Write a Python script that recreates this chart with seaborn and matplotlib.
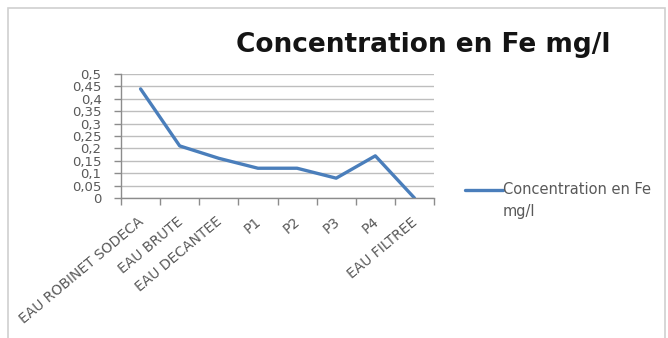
import matplotlib
matplotlib.use("Agg")
import matplotlib.pyplot as plt
import matplotlib.transforms as mtransforms
from matplotlib.patches import Rectangle
from matplotlib.lines import Line2D
from matplotlib.legend_handler import HandlerLine2D
from matplotlib.ticker import FixedLocator, FuncFormatter
import seaborn as sns
import pandas as pd

# Iron concentration along the treatment chain
categories = ["EAU ROBINET SODECA", "EAU BRUTE", "EAU DECANTEE",
              "P1", "P2", "P3", "P4", "EAU FILTREE"]
fe_mg_l = [0.44, 0.21, 0.16, 0.12, 0.12, 0.08, 0.17, 0.0]
y_ticks = [0, 0.05, 0.1, 0.15, 0.2, 0.25, 0.3, 0.35, 0.4, 0.45, 0.5]
series_name = "Concentration en Fe mg/l"

df = pd.DataFrame({"site": categories, "fe": fe_mg_l})

sns.set_theme(style="white")
plt.rcParams["font.family"] = ["DejaVu Sans"]

W, H = 668, 338
fig = plt.figure(figsize=(W / 100, H / 100), dpi=100)
fig.patch.set_facecolor("white")

# outer chart frame (bottom edge runs past the figure)
fig.patches.append(Rectangle((8 / W, -0.1), (665 - 8) / W, 1.1 - 8 / H,
                             transform=fig.transFigure, fill=False,
                             edgecolor="#D0D0D0", linewidth=1.2))

ax = fig.add_axes([121 / W, 1 - 198 / H, (434 - 121) / W, (198 - 74) / H])
x_pos = list(range(len(categories)))
line_color = "#4A7EBB"
sns.lineplot(x=x_pos, y=df["fe"], ax=ax, color=line_color, linewidth=2.4,
             sort=False, legend=False)

ax.set_xlim(-0.5, len(categories) - 0.5)
ax.set_ylim(0, 0.5)

grey = "#8C8C8C"
text_grey = "#595959"
ax.yaxis.set_major_locator(FixedLocator(y_ticks))
ax.yaxis.set_major_formatter(FuncFormatter(lambda v, p: f"{v:g}".replace(".", ",")))
ax.grid(axis="y", color="#BEBEBE", linewidth=1.0)
ax.set_axisbelow(True)

ax.set_xticks(x_pos)
ax.set_xticklabels(categories, rotation=40, ha="right", rotation_mode="anchor")
ax.set_xticks([i - 0.5 for i in range(len(categories) + 1)], minor=True)
ax.tick_params(axis="x", which="major", length=0, pad=12, labelsize=10,
               labelcolor=text_grey)
ax.tick_params(axis="x", which="minor", length=5, color=grey, width=1,
               bottom=True, direction="out")
ax.tick_params(axis="y", which="major", length=5, color=grey, width=1,
               left=True, direction="out", pad=9, labelsize=9.5,
               labelcolor=text_grey)

# nudge the slanted category labels slightly left of their slot
shift = mtransforms.ScaledTranslation(-3 / 100, 0, fig.dpi_scale_trans)
for lbl in ax.get_xticklabels():
    lbl.set_transform(lbl.get_transform() + shift)

for side in ("top", "right"):
    ax.spines[side].set_visible(False)
for side in ("left", "bottom"):
    ax.spines[side].set_color(grey)
    ax.spines[side].set_linewidth(1)
ax.set_xlabel("")
ax.set_ylabel("")

fig.text(423 / W, 1 - 45 / H, series_name, ha="center", va="center",
         fontsize=19, fontweight="bold", color="#141414")


class FirstLineHandler(HandlerLine2D):
    """Legend line level with the first line of a two-line label."""

    def create_artists(self, legend, orig_handle, xdescent, ydescent,
                       width, height, fontsize, trans):
        artists = super().create_artists(legend, orig_handle, xdescent,
                                         ydescent, width, height, fontsize,
                                         trans)
        for a in artists:
            a.set_ydata([y + 0.8 * fontsize for y in a.get_ydata()])
        return artists


leg_handle = Line2D([], [], color=line_color, linewidth=2.4)
leg = fig.legend([leg_handle], ["Concentration en Fe\nmg/l"], loc="upper left",
                 bbox_to_anchor=(465 / W, 1 - 182 / H), frameon=False,
                 fontsize=10.5, labelcolor=text_grey, handlelength=2.6,
                 handletextpad=0.0, borderpad=0, borderaxespad=0,
                 handler_map={Line2D: FirstLineHandler()})
for t in leg.get_texts():
    t.set_linespacing(1.6)

fig.savefig("out.png", dpi=100, facecolor="white")
